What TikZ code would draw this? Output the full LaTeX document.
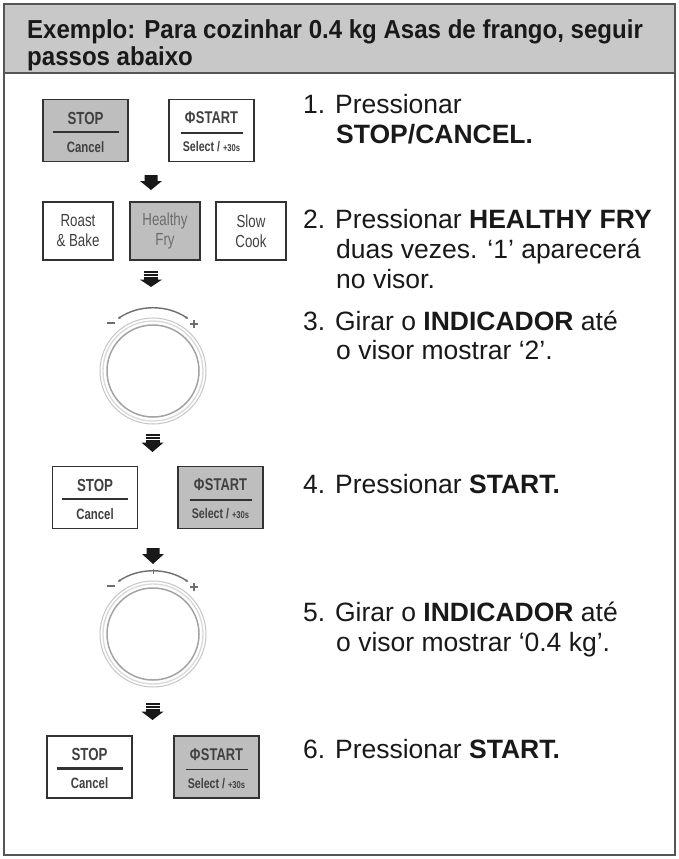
\documentclass[tikz,border=0pt]{standalone}
\usepackage{fontspec}
\usepackage{graphicx}
\setmainfont{Liberation Sans}
\usetikzlibrary{calc,arrows.meta}
\definecolor{hdrgray}{RGB}{200,200,200}
\definecolor{btngray}{RGB}{190,190,190}
\definecolor{framec}{RGB}{85,85,85}
\definecolor{txt}{RGB}{25,25,25}
\definecolor{btxt}{RGB}{50,50,50}
\definecolor{lbl}{RGB}{65,65,65}
\definecolor{dialc}{RGB}{110,110,110}
\newcommand\cnd[1]{\scalebox{0.76}[1]{#1}}
\newcommand\hcnd[1]{\scalebox{0.925}[1]{#1}}
\tikzset{
  btn/.style={draw=btxt, line width=1.4pt, inner sep=0pt, minimum width=85pt, minimum height=62pt},
  modebtn/.style={draw=btxt, line width=1.4pt, inner sep=0pt, minimum width=70pt, minimum height=58pt},
  btntxt/.style={inner sep=0pt, text=lbl},
  steptxt/.style={anchor=base west, inner sep=0pt, text=txt, font=\fontsize{26.5}{30}\selectfont},
  hdrtxt/.style={anchor=base west, inner sep=0pt, text=txt, font=\bfseries\fontsize{26}{28}\selectfont},
  arr/.style={fill=txt, draw=none},
}
\newcommand\stopbox[4]{%
  \node[btn, fill=#4] (#1) at (#2,#3) {};
  \node[btntxt, font=\bfseries\fontsize{17.5}{17.5}\selectfont] (#1a) at ($(#1.center)+(0,-12.5)$) {\cnd{STOP}};
  \draw[btxt, line width=2.4pt] ($(#1.center)+(-33,1.5)$) -- ($(#1.center)+(33,1.5)$);
  \node[btntxt, font=\bfseries\fontsize{15}{15}\selectfont] (#1b) at ($(#1.center)+(0,16.5)$) {\cnd{Cancel}};
}
\newcommand\startbox[4]{%
  \node[btn, fill=#4] (#1) at (#2,#3) {};
  \node[btntxt, font=\bfseries\fontsize{17}{17}\selectfont] (#1a) at ($(#1.center)+(0,-12.5)$) {\cnd{Φ\hspace{0.5pt}START}};
  \draw[btxt, line width=1.8pt] ($(#1.center)+(-31,2.5)$) -- ($(#1.center)+(31,2.5)$);
  \node[btntxt, font=\bfseries\fontsize{14}{14}\selectfont] (#1b) at ($(#1.center)+(0,16.5)$) {\cnd{Select / {\fontsize{10}{10}\selectfont+30s}}};
}
\newcommand\solidarrow[3]{% cx, ytop, ybot
  \fill[arr] (#1-6.5,#2) -- (#1+6.5,#2) -- (#1+6.5,#2+6) -- (#1+11,#2+6) -- (#1,#3) -- (#1-11,#2+6) -- (#1-6.5,#2+6) -- cycle;
}
\newcommand\stripearrow[3]{% cx, ytop, ybot
  \fill[arr] (#1-7,#2) rectangle (#1+7,#2+2.2);
  \fill[arr] (#1-7,#2+3.2) rectangle (#1+7,#2+5.4);
  \fill[arr] (#1-7,#2+6.4) rectangle (#1+7,#2+8.6);
  \fill[arr] (#1-11,#2+8.6) -- (#1+11,#2+8.6) -- (#1,#3) -- cycle;
}
\newcommand\dial[3]{% name, cx, cy
  \coordinate (#1) at (#2,#3);
  \draw[gray!45, line width=1pt] (#1) circle (53);
  \draw[gray!30, line width=1.3pt] (#1) circle (50);
  \draw[gray!72, line width=1.5pt] (#1) circle (46);
  \draw[dialc, line width=1.4pt, {Stealth[length=3pt,width=3pt]}-{Stealth[length=3pt,width=3pt]}] ($(#1)+(-124:63)$) arc (-124:-56:63);
  \draw[dialc, line width=1.4pt] ($(#1)+(-46,-48)$) -- ($(#1)+(-38,-48)$);
  \draw[dialc, line width=1.4pt] ($(#1)+(37,-47)$) -- ($(#1)+(45,-47)$);
  \draw[dialc, line width=1.4pt] ($(#1)+(41,-51)$) -- ($(#1)+(41,-43)$);
}
\begin{document}
\begin{tikzpicture}[x=1pt,y=-1pt]
\useasboundingbox (0,0) rectangle (678,859);
\fill[white] (0,0) rectangle (678,859);
% frame and header
\fill[hdrgray] (4,4) rectangle (675,73);
\draw[framec, line width=1.5pt] (4,73) -- (675,73);
\draw[framec, line width=1.5pt] (4,4) rectangle (675,855);
\node[hdrtxt] (h1) at (27,38) {\hcnd{Exemplo: Para cozinhar 0.4 kg Asas de frango, seguir}};
\node[hdrtxt] (h2) at (27,66) {\hcnd{passos abaixo}};

% step 1
\stopbox{stopA}{85.5}{130.5}{btngray}
\startbox{startA}{211.5}{130.5}{white}
\solidarrow{151}{175}{190}
% step 2
\node[modebtn, fill=white, align=center, text=lbl, font=\fontsize{17.5}{20}\selectfont] (roast) at (78,231) {\cnd{Roast}\\\cnd{\& Bake}};
\node[modebtn, fill=btngray, align=center, text=gray!85!black, font=\fontsize{17.5}{20}\selectfont] (healthy) at (165,231) {\cnd{Healthy}\\\cnd{Fry}};
\node[modebtn, fill=white, align=center, text=lbl, font=\fontsize{17.5}{20}\selectfont] (slow) at (251,231) {\cnd{Slow}\\\cnd{Cook}};
\stripearrow{151}{271}{287}
% step 3
\dial{dialA}{153}{371}
\stripearrow{152.5}{434}{452}
% step 4
\stopbox{stopB}{95}{497.5}{white}
\startbox{startB}{220.5}{497.5}{btngray}
\solidarrow{153}{548}{564}
% step 5
\dial{dialB}{153}{634}
\draw[dialc, line width=1pt] (153,569) -- (153,574);
\stripearrow{152.5}{703}{720}
% step 6
\stopbox{stopC}{89.5}{767}{white}
\startbox{startC}{216.5}{767}{btngray}

% texts
\node[steptxt] (t1a) at (303,113) {1. Pressionar};
\node[steptxt] (t1b) at (336,143) {\bfseries STOP/CANCEL.};
\node[steptxt] (t2a) at (303,228) {2. Pressionar \textbf{HEALTHY FRY}};
\node[steptxt] (t2b) at (336,258) {duas vezes. ‘1’ aparecerá};
\node[steptxt] (t2c) at (336,288) {no visor.};
\node[steptxt] (t3a) at (303,330) {3. Girar o \textbf{INDICADOR} até};
\node[steptxt] (t3b) at (336,359) {o visor mostrar ‘2’.};
\node[steptxt] (t4a) at (303,493) {4. Pressionar \textbf{START.}};
\node[steptxt] (t5a) at (303,621) {5. Girar o \textbf{INDICADOR} até};
\node[steptxt] (t5b) at (336,651) {o visor mostrar ‘0.4 kg’.};
\node[steptxt] (t6a) at (303,758) {6. Pressionar \textbf{START.}};
\end{tikzpicture}
\end{document}
